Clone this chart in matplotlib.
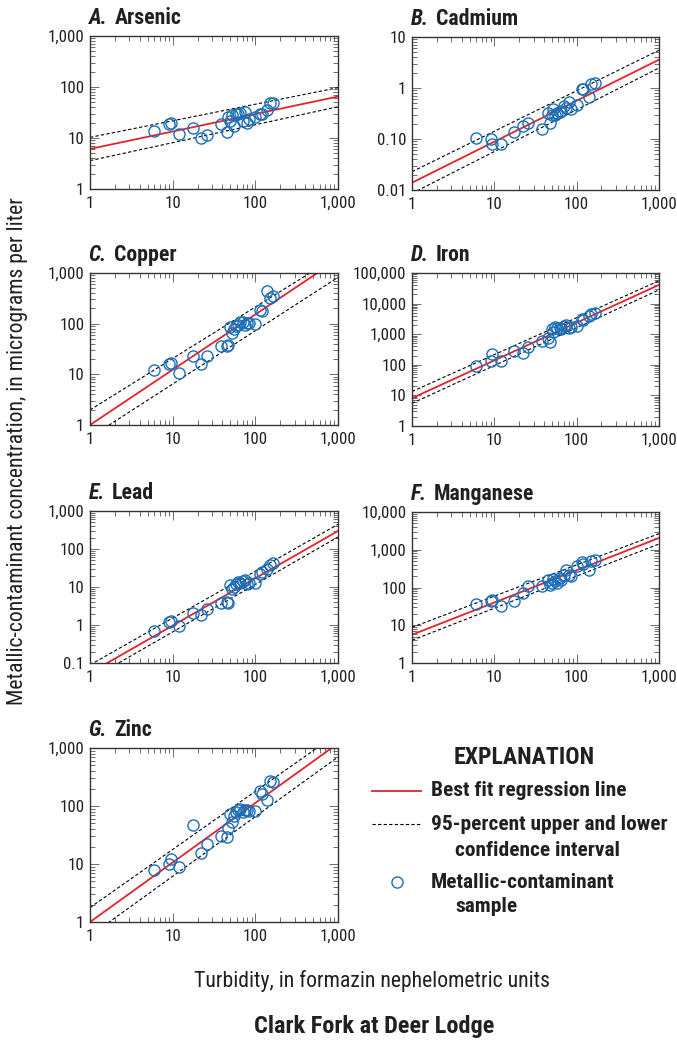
import numpy as np
import matplotlib
matplotlib.use("Agg")
from matplotlib import pyplot as plt
from matplotlib import font_manager as fm
from matplotlib.ticker import LogLocator, NullFormatter, FixedLocator, FixedFormatter

# pick a narrow sans (the original is set in a condensed grotesque)
weights = {}
for f in fm.fontManager.ttflist:
    weights.setdefault(f.name, set()).add(f.weight)
FONT = 'DejaVu Sans'
for cand in ['Roboto Condensed', 'Archivo Narrow', 'PT Sans Narrow',
             'Fira Sans Condensed', 'Barlow Semi Condensed',
             'IBM Plex Sans Condensed', 'Liberation Sans Narrow',
             'Liberation Sans']:
    w = weights.get(cand, set())
    if 400 in w and 700 in w:
        FONT = cand
        break
plt.rcParams['font.family'] = [FONT, 'DejaVu Sans']

# turbidity, FNU (same samples in every panel)
turbidity = [6, 9, 9.5, 12, 17.5, 22, 26, 38, 45, 47, 50, 52, 55, 58, 62,
             65, 70, 75, 80, 85, 100, 115, 120, 140, 150, 165]

arsenic = [14, 19, 20, 12, 16, 10, 11.5, 19, 13, 26, 22, 28, 17, 30, 29,
           31, 22, 33, 20, 24, 26, 30, 30, 36, 48, 48]
cadmium = [0.107, 0.10, 0.079, 0.079, 0.136, 0.18, 0.21, 0.16, 0.32, 0.21,
           0.30, 0.38, 0.29, 0.32, 0.34, 0.36, 0.44, 0.40, 0.53, 0.38, 0.46,
           0.97, 0.95, 0.67, 1.19, 1.25]
copper = [12, 16, 17, 10.5, 23, 16, 23, 36, 36, 38, 86, 65, 78, 90, 95,
          106, 110, 95, 102, 105, 99, 188, 180, 433, 320, 345]
iron = [91, 133, 221, 133, 286, 251, 368, 614, 733, 540, 1500, 1200, 1700,
        1580, 1600, 1500, 1900, 2000, 1580, 1700, 1900, 3200, 2900, 3970,
        4700, 5050]
lead = [0.69, 1.2, 1.3, 0.94, 2.1, 1.8, 2.7, 3.8, 4.0, 3.8, 11, 9, 10, 12,
        13.5, 12.7, 14, 15, 12, 13, 12.7, 21.5, 24.8, 30, 39, 43]
manganese = [37, 43, 46, 32, 43, 71, 108, 112, 162, 119, 130, 168, 145, 130,
             178, 160, 210, 284, 219, 205, 380, 464, 430, 284, 495, 525]
zinc = [7.8, 10, 12, 9, 47, 15.6, 22, 30, 29.5, 41, 72, 54, 66, 80, 86, 89,
        80, 86, 84, 83, 83, 178, 162, 128, 265, 255]

# regression and 95-percent limits, value at turbidity 1 and 1,000
line_x = [1, 1000]
fit_arsenic = [6.1, 65];      up_arsenic = [10.3, 97];    lo_arsenic = [3.6, 41]
fit_cadmium = [0.0139, 3.6];  up_cadmium = [0.0228, 5.5]; lo_cadmium = [0.0086, 2.47]
fit_copper = [1.0, 1870];     up_copper = [1.98, 2210];   lo_copper = [0.57, 820]
fit_iron = [8.1, 41000];      up_iron = [13.4, 55700];    lo_iron = [5.5, 28000]
fit_lead = [0.055, 298];      up_lead = [0.089, 446];     lo_lead = [0.037, 207]
fit_manganese = [5.6, 2050];  up_manganese = [8.8, 2670]; lo_manganese = [4.0, 1420]
fit_zinc = [1.0, 1200];       up_zinc = [1.77, 1800];     lo_zinc = [0.575, 700]

x_ticks = [1, 10, 100, 1000]
x_labels = ["1", "10", "100", "1,000"]

panels = [
    ("A.", "Arsenic", arsenic, fit_arsenic, up_arsenic, lo_arsenic,
     [1, 10, 100, 1000], ["1", "10", "100", "1,000"]),
    ("B.", "Cadmium", cadmium, fit_cadmium, up_cadmium, lo_cadmium,
     [0.01, 0.1, 1, 10], ["0.01", "0.10", "1", "10"]),
    ("C.", "Copper", copper, fit_copper, up_copper, lo_copper,
     [1, 10, 100, 1000], ["1", "10", "100", "1,000"]),
    ("D.", "Iron", iron, fit_iron, up_iron, lo_iron,
     [1, 10, 100, 1000, 10000, 100000],
     ["1", "10", "100", "1,000", "10,000", "100,000"]),
    ("E.", "Lead", lead, fit_lead, up_lead, lo_lead,
     [0.1, 1, 10, 100, 1000], ["0.1", "1", "10", "100", "1,000"]),
    ("F.", "Manganese", manganese, fit_manganese, up_manganese, lo_manganese,
     [1, 10, 100, 1000, 10000], ["1", "10", "100", "1,000", "10,000"]),
    ("G.", "Zinc", zinc, fit_zinc, up_zinc, lo_zinc,
     [1, 10, 100, 1000], ["1", "10", "100", "1,000"]),
]

W, H = 677, 1042
# axes boxes in pixels: left, top, right, bottom
boxes = [(90, 36, 338, 189), (412, 37, 659, 190),
         (90, 273, 338, 425), (412, 273, 659, 426),
         (90, 511, 338, 663), (412, 512, 659, 663),
         (90, 748, 338, 922)]

RED = '#e4232b'
BLUE = '#1a6fb8'
INK = '#231f20'

fig = plt.figure(figsize=(W / 100, H / 100), dpi=100)
rend = fig.canvas.get_renderer()


def size_for(txt, px, weight='normal'):
    # font size that makes txt about px pixels wide
    t = fig.text(0, 0, txt, fontsize=12, fontweight=weight)
    w = t.get_window_extent(rend).width
    t.remove()
    return 12 * px / w


fs_tick = size_for("1,000", 36)
fs_title = size_for("Manganese", 100, 'bold')
fs_leg = size_for("Best fit regression line", 196, 'bold')
fs_expl = size_for("EXPLANATION", 141, 'bold')
fs_lab = size_for("Turbidity, in formazin nephelometric units", 356)
fs_main = size_for("Clark Fork at Deer Lodge", 241, 'bold')

for (let, name, conc, fit, up, lo, yt, ytl), (l, t, r, b) in zip(panels, boxes):
    ax = fig.add_axes([l / W, 1 - b / H, (r - l) / W, (b - t) / H])
    ax.set_xscale('log')
    ax.set_yscale('log')
    ax.plot(line_x, up, ls=(0, (3, 2)), c='black', lw=0.8)
    ax.plot(line_x, lo, ls=(0, (3, 2)), c='black', lw=0.8)
    ax.plot(line_x, fit, '-', c=RED, lw=1.3)
    ax.plot(turbidity, conc, 'o', mfc='none', mec=BLUE, ms=8, mew=1.0)
    ax.set_xlim(1, 1000)
    ax.set_ylim(yt[0], yt[-1])
    ax.xaxis.set_major_locator(FixedLocator(x_ticks))
    ax.xaxis.set_major_formatter(FixedFormatter(x_labels))
    ax.yaxis.set_major_locator(FixedLocator(yt))
    ax.yaxis.set_major_formatter(FixedFormatter(ytl))
    for axis in (ax.xaxis, ax.yaxis):
        axis.set_minor_locator(LogLocator(base=10, subs=np.arange(2, 10), numticks=100))
        axis.set_minor_formatter(NullFormatter())
    ax.tick_params(which='both', direction='in', top=True, right=True,
                   width=0.6, color='#555555', labelsize=fs_tick, labelcolor=INK)
    ax.tick_params(which='major', length=6.5)
    ax.tick_params(which='minor', length=3.5)
    ax.tick_params(axis='x', pad=5)
    ax.tick_params(axis='y', pad=4)
    for sp in ax.spines.values():
        sp.set_linewidth(1.0)
        sp.set_color('#333333')
    tl = ax.text(l / W - 0.002, 1 - (t - 12) / H, let, transform=fig.transFigure,
                 fontsize=fs_title, fontweight='bold', style='italic',
                 color=INK, va='baseline', ha='left')
    ax.annotate(name, xy=(1, 0), xycoords=tl, xytext=(5, 0),
                textcoords='offset points', fontsize=fs_title, fontweight='bold',
                color=INK, va='bottom', ha='left')

# explanation box
lg = fig.add_axes([0, 0, 1, 1])
lg.set_xlim(0, W)
lg.set_ylim(H, 0)
lg.axis('off')
lg.text(524, 757, "EXPLANATION", fontsize=fs_expl, fontweight='bold',
        color=INK, ha='center', va='center')
lg.plot([372, 421], [791, 791], '-', c=RED, lw=1.3)
lg.text(431, 791, "Best fit regression line", fontsize=fs_leg, fontweight='bold',
        color=INK, va='center')
lg.plot([372, 421], [824, 824], ls=(0, (3, 2)), c='black', lw=0.8)
lg.text(431, 824, "95-percent upper and lower", fontsize=fs_leg, fontweight='bold',
        color=INK, va='center')
lg.text(455, 850, "confidence interval", fontsize=fs_leg, fontweight='bold',
        color=INK, va='center')
lg.plot([397], [882], 'o', mfc='none', mec=BLUE, ms=8, mew=1.0)
lg.text(431, 882, "Metallic-contaminant", fontsize=fs_leg, fontweight='bold',
        color=INK, va='center')
lg.text(455, 907, "sample", fontsize=fs_leg, fontweight='bold',
        color=INK, va='center')

fig.text(18 / W, 1 - 451 / H,
         "Metallic-contaminant concentration, in micrograms per liter",
         rotation=90, fontsize=fs_lab, color=INK, ha='center', va='center')
fig.text(372 / W, 1 - 981 / H, "Turbidity, in formazin nephelometric units",
         fontsize=fs_lab, color=INK, ha='center', va='center')
fig.text(374 / W, 1 - 1027 / H, "Clark Fork at Deer Lodge",
         fontsize=fs_main, fontweight='bold', color=INK, ha='center', va='center')

fig.savefig("out.png", dpi=100)
